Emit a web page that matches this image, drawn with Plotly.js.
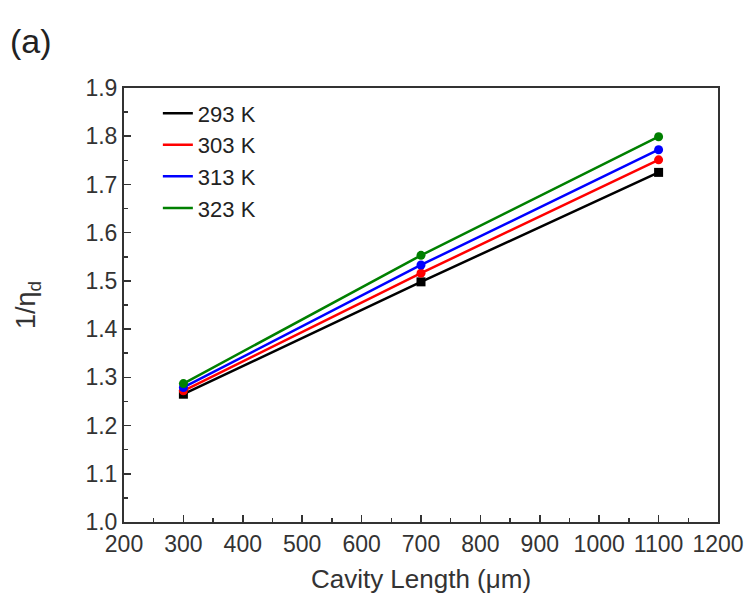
<!DOCTYPE html>
<html>
<head>
<meta charset="utf-8">
<script src="https://cdn.plot.ly/plotly-3.0.1.min.js"></script>
<style>html,body{margin:0;padding:0;background:#fff;}</style>
</head>
<body>
<div id="chart" style="width:751px;height:613px;"></div>
<script>
const cavityLength = [300, 700, 1100];
const seriesNames = ["293 K", "303 K", "313 K", "323 K"];
const k293 = [1.265, 1.498, 1.725];
const k303 = [1.272, 1.516, 1.751];
const k313 = [1.279, 1.533, 1.772];
const k323 = [1.287, 1.553, 1.799];
const xTicks = [200, 300, 400, 500, 600, 700, 800, 900, 1000, 1100, 1200];
const yTicks = [1.0, 1.1, 1.2, 1.3, 1.4, 1.5, 1.6, 1.7, 1.8, 1.9];

const values = [k293, k303, k313, k323];
const colors = ["#000000", "#ff0000", "#0000ff", "#008000"];
const symbols = ["square", "circle", "circle", "circle"];

const traces = [];
values.forEach((v, i) => {
  traces.push({
    x: cavityLength, y: v, type: "scatter", mode: "lines",
    name: seriesNames[i], line: {color: colors[i], width: 2.5},
    showlegend: true
  });
});
values.forEach((v, i) => {
  traces.push({
    x: cavityLength, y: v, type: "scatter", mode: "markers",
    name: seriesNames[i], marker: {color: colors[i], size: 9, symbol: symbols[i]},
    showlegend: false
  });
});

const FAM = "Arial, 'Liberation Sans', sans-serif";
const axisFont = {family: FAM, size: 23, color: "#333"};
const layout = {
  width: 751, height: 613,
  margin: {l: 124, r: 33, t: 88, b: 91},
  paper_bgcolor: "#fff", plot_bgcolor: "#fff",
  showlegend: true,
  legend: {x: 0.057, y: 0.99, xanchor: "left", yanchor: "top",
    font: {family: FAM, size: 22, color: "#222"},
    bgcolor: "rgba(0,0,0,0)", tracegroupgap: 0},
  xaxis: {
    range: [200, 1200], tickvals: xTicks, ticktext: xTicks.map(String),
    ticks: "inside", ticklen: 7, tickwidth: 1.5, tickcolor: "#333",
    minor: {ticks: "inside", ticklen: 4, dtick: 50, tickcolor: "#333", tickwidth: 1.5},
    showline: true, linecolor: "#333", linewidth: 2, mirror: true,
    showgrid: false, zeroline: false, tickfont: axisFont,
    title: {text: "Cavity Length (μm)", font: {family: FAM, size: 26, color: "#333"}, standoff: 14}
  },
  yaxis: {
    range: [1.0, 1.9], tickvals: yTicks, ticktext: yTicks.map(v => v.toFixed(1)),
    ticks: "inside", ticklen: 7, tickwidth: 1.5, tickcolor: "#333",
    minor: {ticks: "inside", ticklen: 4, dtick: 0.05, tickcolor: "#333", tickwidth: 1.5},
    showline: true, linecolor: "#333", linewidth: 2, mirror: true,
    showgrid: false, zeroline: false, tickfont: axisFont,
    title: {text: "1/η<sub>d</sub>", font: {family: FAM, size: 27, color: "#333"}, standoff: 42}
  },
  annotations: [{
    text: "(a)", xref: "paper", yref: "paper", xanchor: "left", yanchor: "top",
    x: -116/594, y: 1 + 68/434,
    showarrow: false, font: {family: FAM, size: 34, color: "#222"}
  }]
};

Plotly.newPlot("chart", traces, layout, {displayModeBar: false, staticPlot: true});
</script>
</body>
</html>
